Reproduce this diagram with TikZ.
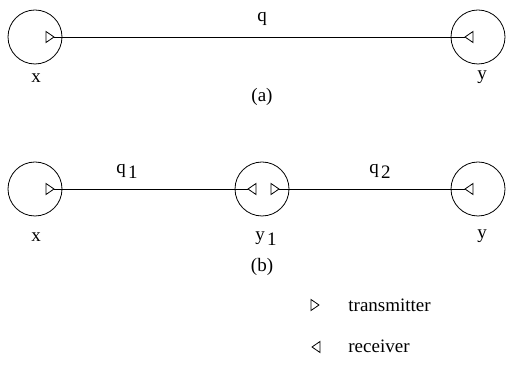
\documentclass[tikz,border=0pt]{standalone}
\usepackage{fontspec}
\setmainfont{Liberation Serif}
\begin{document}
\begin{tikzpicture}[x=0.5pt,y=-0.5pt,
  font=\fontsize{9.5}{11}\selectfont,
  station/.style={circle,draw,line width=0.4pt,minimum size=27pt,inner sep=0pt},
  link/.style={draw,line width=0.4pt},
  lbl/.style={inner sep=0pt},
  txmark/.pic={\draw[line width=0.4pt] (-8,-5.5) -- (0,0) -- (-8,5.5) -- cycle;},
  rxmark/.pic={\draw[line width=0.4pt] (8,-5.5) -- (0,0) -- (8,5.5) -- cycle;}]
\useasboundingbox (0,0) rectangle (507,378);
\newcommand{\sub}[1]{\hspace{1.2pt}\raisebox{-2.5pt}{#1}}
% (a)
\node[station] (xa) at (35,37) {};
\node[station] (ya) at (478,37) {};
\coordinate (xatx) at (54,37);
\coordinate (yarx) at (465,37);
\pic at (xatx) {txmark};
\pic at (yarx) {rxmark};
\draw[link] (xatx) -- (yarx);
\node[lbl] (qa) at (262,19) {q};
\node[lbl] (lxa) at (36,78) {x};
\node[lbl] (lya) at (482,77) {y};
\node[lbl] (capa) at (262,97) {(a)};
% (b)
\node[station] (xb) at (35,189) {};
\node[station] (y1b) at (262,189) {};
\node[station] (yb) at (478,189) {};
\coordinate (xbtx) at (54,189);
\coordinate (y1rx) at (248,189);
\coordinate (y1tx) at (279,189);
\coordinate (ybrx) at (465,189);
\pic at (xbtx) {txmark};
\pic at (y1rx) {rxmark};
\pic at (y1tx) {txmark};
\pic at (ybrx) {rxmark};
\draw[link] (xbtx) -- (y1rx);
\draw[link] (y1tx) -- (ybrx);
\node[lbl] (q1) at (127,171) {q\sub{1}};
\node[lbl] (q2) at (380,171) {q\sub{2}};
\node[lbl] (lxb) at (36,237) {x};
\node[lbl] (ly1) at (266,239) {y\sub{1}};
\node[lbl] (lyb) at (482,236) {y};
\node[lbl] (capb) at (262,267) {(b)};
% legend
\coordinate (ltx) at (319,305);
\coordinate (lrx) at (312,347);
\pic at (ltx) {txmark};
\pic at (lrx) {rxmark};
\node[lbl,anchor=west] (ltxt) at (348,305) {transmitter};
\node[lbl,anchor=west] (lrxt) at (348,346) {receiver};
\end{tikzpicture}
\end{document}
